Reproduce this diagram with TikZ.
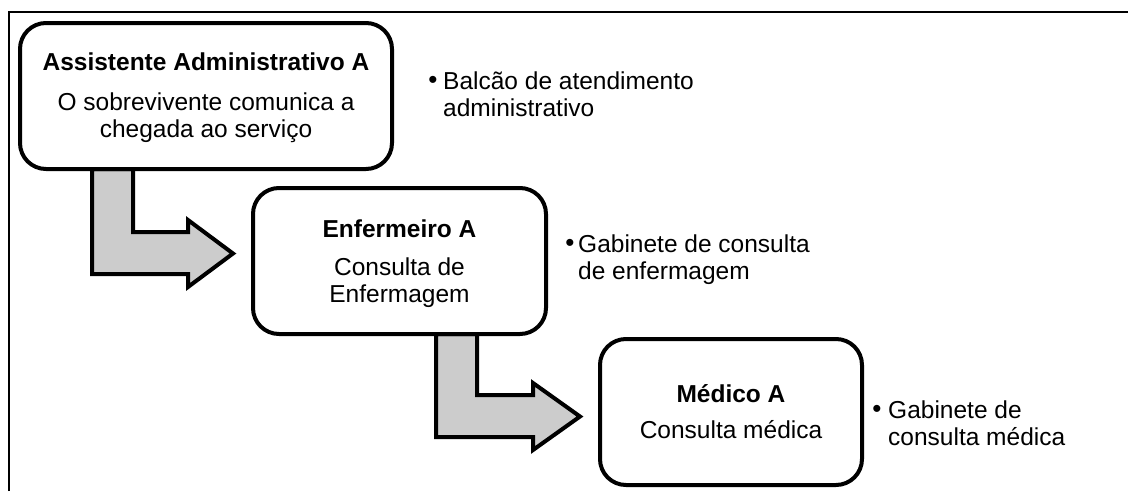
\documentclass[tikz,border=0pt]{standalone}
\usepackage{fontspec}
\setmainfont{Liberation Sans}
\definecolor{arrowgray}{RGB}{204,204,204}
\begin{document}
\begin{tikzpicture}[x=1pt,y=-1pt,
  box/.style={draw=black, line width=4pt, rounded corners=26pt, fill=white, inner sep=0pt, minimum height=146pt},
  boxtext/.style={anchor=base, align=center, inner sep=0pt, font=\fontsize{24.5}{27}\selectfont},
  blockarrow/.style={draw=black, line width=4pt, fill=arrowgray, line join=miter},
  note/.style={anchor=base west, align=left, inner sep=0pt, font=\fontsize{24.5}{27.5}\selectfont},
  bulletdot/.style={inner sep=0pt, font=\fontsize{26}{26}\selectfont}]
\useasboundingbox (0,0) rectangle (1128,491);
% frame
\draw[line width=1.6pt] (9,491) -- (9,12) -- (1128,12);
% block arrows
\draw[blockarrow] (92,169) -- (92,274) -- (188,274) -- (188,287) -- (233,253.5) -- (188,220) -- (188,232) -- (133,232) -- (133,169) -- cycle;
\draw[blockarrow] (436,334) -- (436,437) -- (533,437) -- (533,450) -- (580,416.5) -- (533,383) -- (533,395) -- (477,395) -- (477,334) -- cycle;
% boxes
\node[box, minimum width=372pt] (b1) at (206,96) {};
\node[boxtext] (t1) at (206,137)
  {\textbf{Assistente Administrativo A}\\[13pt]O sobrevivente comunica a\\chegada ao serviço};
\node[box, minimum width=293pt] (b2) at (399.5,261) {};
\node[boxtext] (t2) at (399.5,302)
  {\textbf{Enfermeiro A}\\[11pt]Consulta de\\Enfermagem};
\node[box, minimum width=262pt] (b3) at (731,412) {};
\node[boxtext] (t3) at (731,438)
  {\textbf{Médico A}\\[9pt]Consulta médica};
% notes
\node[bulletdot] (d1) at (433,82.5) {•};
\node[note] (n1) at (443,116.5) {Balcão de atendimento\\administrativo};
\node[bulletdot] (d2) at (570,245.5) {•};
\node[note] (n2) at (578,279.5) {Gabinete de consulta\\de enfermagem};
\node[bulletdot] (d3) at (877,411.5) {•};
\node[note] (n3) at (888,445.5) {Gabinete de\\consulta médica};
\end{tikzpicture}
\end{document}
